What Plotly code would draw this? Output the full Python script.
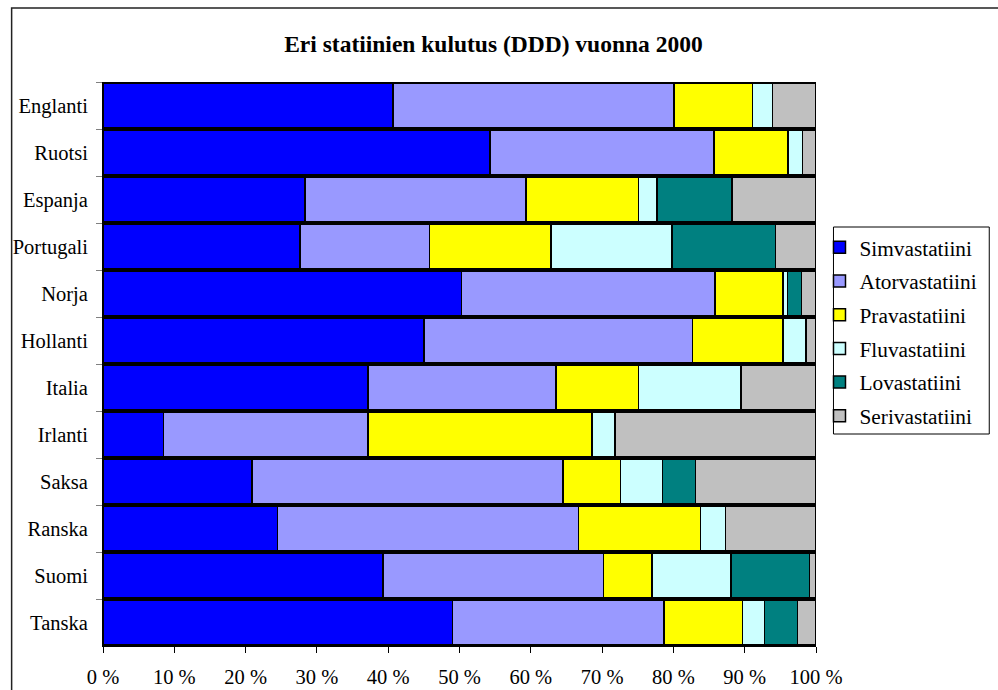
import plotly.graph_objects as go

# Countries, top to bottom
countries = ["Englanti", "Ruotsi", "Espanja", "Portugali", "Norja", "Hollanti",
             "Italia", "Irlanti", "Saksa", "Ranska", "Suomi", "Tanska"]

# Share of each statin (% of DDD) per country
simvastatiini = [40.7, 54.3, 28.3, 27.6, 50.3, 45.0, 37.2, 8.5, 20.9, 24.5, 39.3, 49.0]
atorvastatiini = [39.4, 31.4, 31.0, 18.2, 35.5, 37.7, 26.3, 28.7, 43.6, 42.2, 30.9, 29.7]
pravastatiini = [11.0, 10.4, 15.8, 17.0, 9.6, 12.7, 11.6, 31.4, 8.1, 17.1, 6.8, 11.0]
fluvastatiini = [2.8, 2.0, 2.6, 17.0, 0.6, 3.2, 14.4, 3.2, 5.9, 3.5, 11.1, 3.1]
lovastatiini = [0.0, 0.0, 10.5, 14.5, 2.0, 0.0, 0.0, 0.0, 4.6, 0.0, 11.0, 4.6]
serivastatiini = [6.1, 1.9, 11.8, 5.7, 2.0, 1.4, 10.5, 28.2, 16.9, 12.7, 0.9, 2.6]

series = [
    ("Simvastatiini", simvastatiini, "#0000FF"),
    ("Atorvastatiini", atorvastatiini, "#9999FF"),
    ("Pravastatiini", pravastatiini, "#FFFF00"),
    ("Fluvastatiini", fluvastatiini, "#CCFFFF"),
    ("Lovastatiini", lovastatiini, "#008080"),
    ("Serivastatiini", serivastatiini, "#C0C0C0"),
]

FONT = "Times New Roman"

fig = go.Figure()
for name, vals, color in series:
    fig.add_trace(go.Bar(
        y=countries, x=vals, name=name, orientation="h",
        legendgroup=name,
        marker=dict(color=color, line=dict(color="black", width=1.5)),
    ))

W, H = 998, 690
L, R, T, B = 102.5, 181.5, 82, 44
pw, ph = W - L - R, H - T - B

def px_x(x):
    return (x - L) / pw

def px_y(y):
    return 1 - (y - T) / ph

fig.update_layout(
    width=W, height=H,
    margin=dict(l=L, r=R, t=T, b=B, autoexpand=False),
    barmode="stack", barnorm="percent", bargap=0.04,
    paper_bgcolor="white", plot_bgcolor="#C0C0C0",
    font=dict(family=FONT, size=20, color="black"),
    title=dict(
        text="<b>Eri statiinien kulutus (DDD) vuonna 2000</b>",
        font=dict(family=FONT, size=23.5, color="black"),
        x=px_x(493.5), xref="paper", xanchor="center",
        y=1 - 44 / H, yref="container", yanchor="middle",
    ),
    xaxis=dict(
        range=[0, 100], dtick=10, ticksuffix=" %",
        showgrid=False, zeroline=False,
        showline=True, linecolor="black", linewidth=1,
        ticks="outside", ticklen=6, tickcolor="black",
        tickfont=dict(family=FONT, size=20.5),
        ticklabelstandoff=6,
    ),
    yaxis=dict(
        autorange="reversed", showgrid=False,
        showline=True, linecolor="black", linewidth=1,
        ticks="outside", ticklen=6, tickcolor="gray", tickson="boundaries",
        tickfont=dict(family=FONT, size=20.5),
        ticklabelstandoff=10,
    ),
    legend=dict(
        x=px_x(820), y=px_y(227), xanchor="left", yanchor="top",
        borderwidth=0, bgcolor="rgba(0,0,0,0)",
        traceorder="grouped", tracegroupgap=3,
        font=dict(family=FONT, size=21.3),
        itemwidth=30,
    ),
    shapes=[
        # outer chart frame
        dict(
            type="rect", xref="paper", yref="paper",
            x0=px_x(11), x1=px_x(1010), y0=px_y(8), y1=px_y(700),
            line=dict(color="#222222", width=1.5), fillcolor="rgba(0,0,0,0)",
            layer="below",
        ),
        # legend frame
        dict(
            type="rect", xref="paper", yref="paper",
            x0=px_x(834), x1=px_x(990), y0=px_y(227), y1=px_y(434),
            line=dict(color="black", width=1), fillcolor="white",
            layer="below",
        ),
    ],
)

fig.write_html("out.html")
